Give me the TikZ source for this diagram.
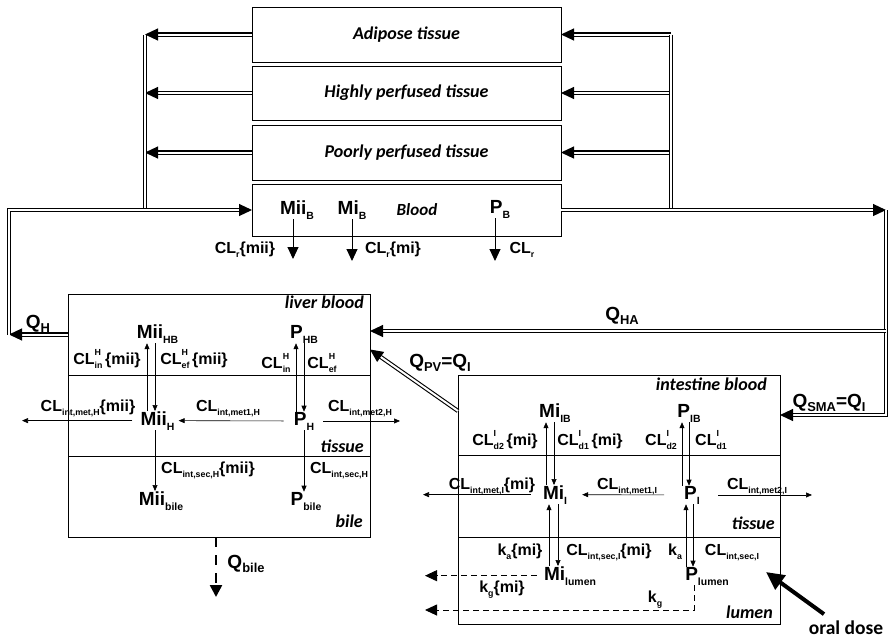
\documentclass[tikz,border=0pt]{standalone}
\usepackage{fontspec}
\setmainfont{Liberation Sans}
\newfontfamily\calfnt{Carlito}
\usetikzlibrary{arrows.meta,calc,positioning}
\newcommand{\subs}[1]{\raisebox{-.5ex}{\scalebox{.55}{#1}}}
\newcommand{\qsubs}[1]{\raisebox{-.45ex}{\scalebox{.68}{#1}}}
\newcommand{\CLud}[2]{CL\rlap{\raisebox{1.05ex}{\scalebox{.55}{#1}}}\raisebox{-.5ex}{\scalebox{.55}{#2}}}
\tikzset{
    tbox/.style = {draw, rectangle, line width=0.9pt, outer sep=0pt,
        minimum width=309pt, inner sep=0pt,
        font=\calfnt\bfseries\itshape\fontsize{18}{18}\selectfont},
    sect/.style = {draw, rectangle, line width=0.9pt, outer sep=0pt, inner sep=0pt},
    spec/.style = {anchor=base, inner sep=0pt, font=\bfseries\fontsize{19}{19}\selectfont},
    rate/.style = {anchor=base, inner sep=0pt, font=\bfseries\fontsize{16}{16}\selectfont},
    qlab/.style = {anchor=base, inner sep=0pt, font=\bfseries\fontsize{19}{19}\selectfont},
    comp/.style = {anchor=base east, inner sep=0pt,
        font=\calfnt\bfseries\itshape\fontsize{18}{18}\selectfont},
    flow/.style = {double, double distance=2pt, line width=1.1pt, -{Triangle[length=13pt,width=12pt]}},
    dline/.style = {double, double distance=2pt, line width=1.1pt},
    thinarr/.style = {line width=0.6pt, -{Triangle[length=6pt,width=5pt]}},
    bigarr/.style = {line width=1pt, -{Triangle[length=12pt,width=11pt]}},
    dasharr/.style = {line width=0.9pt, dash pattern=on 6pt off 4pt, -{Triangle[length=12pt,width=11pt]}},
    bilearr/.style = {line width=2.5pt, dash pattern=on 10pt off 8pt, -{Triangle[length=12pt,width=12pt]}},
    oralarr/.style = {line width=4pt, -{Triangle[length=18pt,width=17pt]}}
}

\begin{document}
\begin{tikzpicture}[x=1pt, y=-1pt, node distance=4pt]
    \useasboundingbox (0,0) rectangle (890,638);

    % body compartments
    \node [tbox, minimum height=55pt] (adi) at (406.5,34.5) {Adipose tissue};
    \node [tbox, minimum height=54pt, below=of adi] (hpt) {Highly perfused tissue};
    \node [tbox, minimum height=55pt, below=5pt of hpt] (ppt) {Poorly perfused tissue};
    \node [tbox, minimum height=52pt, below=of ppt] (blood) {};

    % liver and intestine
    \node [sect, minimum width=302pt, minimum height=81pt] (livb) at (219,334.5) {};
    \node [sect, minimum width=302pt, minimum height=81pt, below=0pt of livb] (livt) {};
    \node [sect, minimum width=302pt, minimum height=81pt, below=0pt of livt] (livbile) {};
    \node [sect, minimum width=322pt, minimum height=80pt] (intb) at (619,415) {};
    \node [sect, minimum width=322pt, minimum height=82pt, below=0pt of intb] (intt) {};
    \node [sect, minimum width=322pt, minimum height=87pt, below=0pt of intt] (intl) {};

    % blood
    \node [spec] (miiB) at (297,214) {Mii\subs{B}};
    \node [spec] (miB) at (352,214) {Mi\subs{B}};
    \node [comp, anchor=base, font=\calfnt\bfseries\itshape\fontsize{17}{17}\selectfont] (bloodlbl) at (417,215) {Blood};
    \node [spec] (pB) at (500,213) {P\subs{B}};
    \coordinate (miiBr) at (293,259);
    \coordinate (miBr) at (352,261);
    \coordinate (pBr) at (495,261);
    \draw [bigarr] (miiB.south -| miiBr) -- (miiBr);
    \draw [bigarr] (miB.south -| miBr) -- (miBr);
    \draw [bigarr] (pB.south -| pBr) -- (pBr);
    \node [rate] (clrmii) at (245,253) {CL\subs{r}\{mii\}};
    \node [rate] (clrmi) at (393,253) {CL\subs{r}\{mi\}};
    \node [rate] (clr) at (522,253) {CL\subs{r}};

    % circulation
    \coordinate (lx) at (blood.west -| 145,0);
    \coordinate (rx) at (blood.east -| 671,0);
    \coordinate (lc) at (9,210);
    \coordinate (rc) at (886,210);
    \draw [flow] (adi.west) -- (adi.west -| lx);
    \draw [flow] (hpt.west) -- (hpt.west -| lx);
    \draw [flow] (ppt.west) -- (ppt.west -| lx);
    \draw [dline] (adi.west -| lx) -- (lx);
    \draw [flow] (adi.east -| rx) -- (adi.east);
    \draw [flow] (hpt.east -| rx) -- (hpt.east);
    \draw [flow] (ppt.east -| rx) -- (ppt.east);
    \draw [dline] (adi.east -| rx) -- (rx);
    \draw [flow] (livb.west) -- (livb.west -| lc);
    \draw [flow] (livb.west -| lc) -- (lc) -- (blood.west);
    \draw [flow] (blood.east) -- (rc);
    \draw [flow] (rc) -- (rc |- intb.east) -- (intb.east);
    \coordinate (ha) at ($(livb.east)+(0,-3.5)$);
    \draw [flow] (rc |- ha) -- (ha);
    \draw [flow] ($(intb.west)+(0,-4)$) -- ($(livb.east)+(0,15)$);
    \node [qlab] (qh) at (38,328) {Q\qsubs{H}};
    \node [qlab] (qha) at (622,320) {Q\qsubs{HA}};
    \node [qlab] (qpv) at (440,367) {Q\qsubs{PV}=Q\qsubs{I}};
    \node [qlab] (qsma) at (829,407) {Q\qsubs{SMA}=Q\qsubs{I}};

    % liver
    \node [comp] (livblbl) at (364,308) {liver blood};
    \node [comp] (livtlbl) at (364,452) {tissue};
    \node [comp] (bilelbl) at (363,527) {bile};
    \node [spec] (miiHB) at (157.5,338) {Mii\subs{HB}};
    \node [spec] (pHB) at (304,338) {P\subs{HB}};
    \node [spec] (miiH) at (157.5,425) {Mii\subs{H}};
    \node [spec] (pH) at (304,425) {P\subs{H}};
    \node [spec] (miibile) at (161,505) {Mii\subs{bile}};
    \node [spec] (pbile) at (306,505) {P\subs{bile}};
    \draw [thinarr] ([xshift=-10.5pt]miiH.north) -- ([xshift=-10.5pt]miiHB.south);
    \draw [thinarr] ([xshift=-2.5pt]miiHB.south) -- ([xshift=-2.5pt]miiH.north);
    \draw [thinarr] ([xshift=-8pt]pH.north) -- ([xshift=-8pt]pHB.south);
    \draw [thinarr] (pHB.south) -- (pH.north);
    \node [rate] (clinmii) at (107,364) {\CLud{H}{in}\,\{mii\}};
    \node [rate] (clefmii) at (194,364) {\CLud{H}{ef}\,\{mii\}};
    \node [rate] (clinp) at (276,368) {\CLud{H}{in}};
    \node [rate] (clefp) at (322,368) {\CLud{H}{ef}};
    \coordinate (metH) at (22,420);
    \coordinate (met2H) at (400,420);
    \draw [thinarr, shorten <=8pt] (miiH.west) -- (miiH.west -| metH);
    \draw [thinarr, shorten <=10pt, shorten >=4pt] (pH.west) -- (miiH.east);
    \draw [thinarr, shorten <=9pt] (pH.east) -- (pH.east -| met2H);
    \node [rate] (clmetmii) at (88,411) {CL\subs{int,met,H}\{mii\}};
    \node [rate] (clmet1h) at (228,411) {CL\subs{int,met1,H}};
    \node [rate] (clmet2h) at (360,411) {CL\subs{int,met2,H}};
    \draw [thinarr] ([xshift=-2.5pt]miiH.south) -- ([xshift=-2.5pt]miiH.south |- miibile.north);
    \draw [thinarr] (pH.south) -- (pH.south |- pbile.north);
    \node [rate] (clsecmii) at (208,473) {CL\subs{int,sec,H}\{mii\}};
    \node [rate] (clsech) at (339,473) {CL\subs{int,sec,H}};
    \coordinate (bileout) at (216,597);
    \draw [bilearr] (livbile.south -| bileout) -- (bileout);
    \node [qlab] (qbile) at (246,568) {Q\qsubs{bile}};

    % intestine
    \node [comp] (intblbl) at (767,390) {intestine blood};
    \node [comp] (inttlbl) at (775,529) {tissue};
    \node [comp] (intllbl) at (773,618) {lumen};
    \node [spec] (miIB) at (555,417) {Mi\subs{IB}};
    \node [spec] (pIB) at (689,417) {P\subs{IB}};
    \node [spec] (miI) at (555,499) {Mi\subs{I}};
    \node [spec] (pI) at (692,499) {P\subs{I}};
    \node [spec] (milumen) at (570,580) {Mi\subs{lumen}};
    \node [spec] (plumen) at (707,580) {P\subs{lumen}};
    \draw [thinarr] ([xshift=-9pt]miI.north) -- ([xshift=-9pt]miI.north |- miIB.south);
    \draw [thinarr] ([xshift=-1pt]miI.north |- miIB.south) -- ([xshift=-1pt]miI.north);
    \draw [thinarr] ([xshift=-10pt]pI.north) -- ([xshift=-10pt]pI.north |- pIB.south);
    \draw [thinarr] ([xshift=-3pt]pI.north |- pIB.south) -- ([xshift=-3pt]pI.north);
    \node [rate] (cld2mi) at (505,445) {\CLud{I}{d2}\,\{mi\}};
    \node [rate] (cld1mi) at (590,445) {\CLud{I}{d1}\,\{mi\}};
    \node [rate] (cld2p) at (661,445) {\CLud{I}{d2}};
    \node [rate] (cld1p) at (711,445) {\CLud{I}{d1}};
    \coordinate (metI) at (423,494);
    \coordinate (met2I) at (812,494);
    \draw [thinarr, shorten <=12pt] (miI.west) -- (miI.west -| metI);
    \draw [thinarr, shorten <=20pt, shorten >=15pt] (pI.west) -- (miI.east);
    \draw [thinarr, shorten <=18pt] (pI.east) -- (pI.east -| met2I);
    \node [rate] (clmetmi) at (492,489) {CL\subs{int,met,I}\{mi\}};
    \node [rate] (clmet1i) at (627,489) {CL\subs{int,met1,I}};
    \node [rate] (clmet2i) at (757,489) {CL\subs{int,met2,I}};
    \draw [thinarr] ([xshift=-6pt]miI.south |- milumen.north) -- ([xshift=-6pt]miI.south);
    \draw [thinarr] ([xshift=3pt]miI.south) -- ([xshift=3pt]miI.south |- milumen.north);
    \draw [thinarr] ([xshift=-6pt]pI.south |- plumen.north) -- ([xshift=-6pt]pI.south);
    \draw [thinarr] ([xshift=1pt]pI.south) -- ([xshift=1pt]pI.south |- plumen.north);
    \node [rate] (kami) at (520,555) {k\subs{a}\{mi\}};
    \node [rate] (clsecmi) at (609,555) {CL\subs{int,sec,I}\{mi\}};
    \node [rate] (kap) at (675,555) {k\subs{a}};
    \node [rate] (clseci) at (732,555) {CL\subs{int,sec,I}};
    \coordinate (kgmi) at (425,574);
    \coordinate (kgp) at (425,610);
    \draw [dasharr, shorten <=7pt] (milumen.west) -- (milumen.west -| kgmi);
    \draw [dasharr] ([xshift=-13pt]plumen.south) -- ([xshift=-13pt]plumen.south |- kgp) -- (kgp);
    \node [rate] (kgmilbl) at (502,592) {k\subs{g}\{mi\}};
    \node [rate] (kgplbl) at (655,602) {k\subs{g}};

    % oral dose
    \node [anchor=base, inner sep=0pt, font=\calfnt\bfseries\fontsize{19.5}{19.5}\selectfont] (oral) at (846,634) {oral dose};
    \coordinate (dose) at (766,572);
    \draw [oralarr] ([xshift=-22pt,yshift=6pt]oral.north) -- (dose);
\end{tikzpicture}
\end{document}
